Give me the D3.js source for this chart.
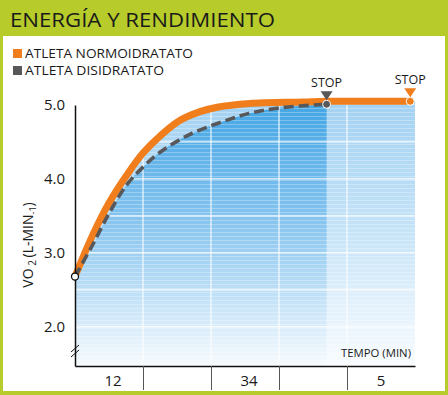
<!DOCTYPE html>
<html>
<head>
<meta charset="utf-8">
<script src="https://cdn.jsdelivr.net/npm/d3@7"></script>
<style>
  body { margin: 0; background: #fff; }
  text { font-family: "Open Sans", "Noto Sans", sans-serif; }
</style>
</head>
<body>
<div id="chart"></div>
<script>
// data (time in minutes, VO2 in L/min)
var normoTime = [0, 0.26, 0.51, 0.76, 1.0, 1.25, 1.54, 1.84, 2.09, 2.57, 3.35, 3.7, 4.93];
var normoVO2  = [2.68, 3.24, 3.69, 4.05, 4.35, 4.58, 4.79, 4.91, 4.97, 5.02, 5.04, 5.05, 5.05];
var disiTime  = [0, 0.26, 0.51, 0.76, 1.0, 1.25, 1.66, 2.03, 2.32, 2.53, 3.0, 3.7];
var disiVO2   = [2.68, 3.11, 3.55, 3.92, 4.16, 4.36, 4.59, 4.73, 4.82, 4.88, 4.96, 5.01];
var yTicks = [2.0, 3.0, 4.0, 5.0];
var xTicks = [1, 2, 3, 4];
var catLabels = ["12", "34", "5"];
var catPos = [0.56, 2.56, 4.5];
var legendNames = ["ATLETA NORMOIDRATATO", "ATLETA DISIDRATATO"];

var W = 448, H = 395;
var orange = "#f07e1c", grey = "#58585a", green = "#b7cc2a";

var svg = d3.select("#chart").append("svg")
    .attr("width", W)
    .attr("height", H);

// frame + header band
svg.append("rect").attr("width", W).attr("height", H).attr("fill", green);
svg.append("rect").attr("x", 3).attr("y", 36).attr("width", W - 6).attr("height", H - 36 - 4).attr("fill", "#fff");

svg.append("text")
    .attr("x", 10).attr("y", 27)
    .style("font-size", "20px")
    .attr("fill", "#1a1a1a")
    .attr("textLength", 265).attr("lengthAdjust", "spacingAndGlyphs")
    .text("ENERGÍA Y RENDIMIENTO");

// legend
legendNames.forEach(function(name, i) {
  svg.append("rect")
    .attr("x", 13).attr("y", 49 + i * 17).attr("width", 9).attr("height", 9)
    .attr("fill", i === 0 ? orange : grey);
  svg.append("text")
    .attr("x", 25).attr("y", 58 + i * 17)
    .style("font-size", "13.5px")
    .attr("fill", "#1a1a1a")
    .attr("textLength", i === 0 ? 168 : 139).attr("lengthAdjust", "spacingAndGlyphs")
    .text(name);
});

var x = d3.scaleLinear().domain([0, 5]).range([75, 415]);
var y = d3.scaleLinear().domain([1.47, 5.0]).range([366, 105]);

var normo = normoTime.map(function(t, i) { return {t: t, v: normoVO2[i]}; });
var disi = disiTime.map(function(t, i) { return {t: t, v: disiVO2[i]}; });
var normoFill = normo.concat([{t: 5, v: normoVO2[normoVO2.length - 1]}]);

var defs = svg.append("defs");
function grad(id, top, mid, bottom) {
  var g = defs.append("linearGradient").attr("id", id)
    .attr("gradientUnits", "userSpaceOnUse")
    .attr("x1", 0).attr("x2", 0).attr("y1", y(5)).attr("y2", y(1.47));
  g.append("stop").attr("offset", "0%").attr("stop-color", top);
  g.append("stop").attr("offset", "45%").attr("stop-color", mid);
  g.append("stop").attr("offset", "100%").attr("stop-color", bottom);
}
grad("gDark", "#45a6e5", "#88c5ef", "#f7fbfe");
grad("gLight", "#a4d2f2", "#c3e2f7", "#f9fcff");

var pat = defs.append("pattern").attr("id", "stripes")
    .attr("patternUnits", "userSpaceOnUse").attr("width", 8).attr("height", 4);
pat.append("rect").attr("y", 0).attr("width", 8).attr("height", 1).attr("fill", "#fff").attr("opacity", 0.28);

var curve = d3.curveCatmullRom.alpha(0.5);
var area = d3.area()
    .x(function(d) { return x(d.t); })
    .y0(y(1.47))
    .y1(function(d) { return y(d.v); })
    .curve(curve);
var line = d3.line()
    .x(function(d) { return x(d.t); })
    .y(function(d) { return y(d.v); })
    .curve(curve);

svg.append("path").datum(normoFill).attr("d", area).attr("fill", "url(#gLight)");
svg.append("path").datum(disi).attr("d", area).attr("fill", "url(#gDark)");
svg.append("path").datum(normoFill).attr("d", area).attr("fill", "url(#stripes)");

// white grid
svg.append("g").selectAll("line").data(xTicks).enter().append("line")
    .attr("x1", function(d) { return x(d); }).attr("x2", function(d) { return x(d); })
    .attr("y1", y(5.05)).attr("y2", y(1.47))
    .attr("stroke", "#fff").attr("stroke-width", 1.2).attr("opacity", 0.9);
svg.append("g").selectAll("line").data(d3.range(2, 5, 0.5)).enter().append("line")
    .attr("x1", x(0)).attr("x2", x(5))
    .attr("y1", function(d) { return y(d); }).attr("y2", function(d) { return y(d); })
    .attr("stroke", "#fff").attr("stroke-width", 1.2).attr("opacity", 0.9);

// curves
svg.append("path").datum(normo).attr("d", line)
    .attr("fill", "none").attr("stroke", orange).attr("stroke-width", 7).attr("stroke-linecap", "round");
svg.append("path").datum(disi).attr("d", line)
    .attr("fill", "none").attr("stroke", grey).attr("stroke-width", 3.6)
    .attr("stroke-dasharray", "10,5");

// axes
var yAxis = svg.append("g")
    .attr("transform", "translate(" + x(0) + ",0)")
    .call(d3.axisLeft(y).tickValues(yTicks).tickSize(0).tickSizeOuter(0).tickPadding(10)
      .tickFormat(d3.format(".1f")));
yAxis.select(".domain").attr("stroke", "#111").attr("stroke-width", 1.5);
yAxis.selectAll(".tick text").style("font-size", "15px").attr("fill", "#1a1a1a")
    .style("font-family", "'Open Sans', 'Noto Sans', sans-serif");

var xAxis = svg.append("g")
    .attr("transform", "translate(0," + y(1.47) + ")")
    .call(d3.axisBottom(x).tickValues(xTicks).tickSize(24).tickSizeOuter(0).tickFormat(""));
xAxis.select(".domain").attr("stroke", "#111").attr("stroke-width", 1.5);
xAxis.selectAll(".tick line").attr("stroke", "#555").attr("stroke-width", 1);

catLabels.forEach(function(lab, i) {
  svg.append("text")
    .attr("x", x(catPos[i])).attr("y", 386)
    .attr("text-anchor", "middle")
    .style("font-size", "15px").attr("fill", "#1a1a1a")
    .text(lab);
});

// axis break
[0, 5].forEach(function(off) {
  svg.append("line")
    .attr("x1", x(0) - 4).attr("y1", 352 + off)
    .attr("x2", x(0) + 4).attr("y2", 345 + off)
    .attr("stroke", "#111").attr("stroke-width", 1);
});

svg.append("text")
    .attr("x", 411).attr("y", 357)
    .attr("text-anchor", "end")
    .style("font-size", "11px").attr("fill", "#1a1a1a")
    .attr("textLength", 70).attr("lengthAdjust", "spacingAndGlyphs")
    .text("TEMPO (MIN)");

// y axis title
var yt = svg.append("text")
    .attr("transform", "translate(33,245) rotate(-90)")
    .attr("text-anchor", "middle")
    .style("font-size", "14px").attr("fill", "#1a1a1a");
yt.append("tspan").text("VO");
yt.append("tspan").attr("dy", 3).style("font-size", "10px").text(" 2 ");
yt.append("tspan").attr("dy", -3).text("(L-MIN");
yt.append("tspan").attr("dy", 3).style("font-size", "9px").text("-1");
yt.append("tspan").attr("dy", -3).text(")");

// points
var lastN = normo[normo.length - 1], lastD = disi[disi.length - 1];
svg.append("circle").attr("cx", x(0)).attr("cy", y(normoVO2[0])).attr("r", 3.5)
    .attr("fill", "#fff").attr("stroke", "#111").attr("stroke-width", 1.3);
svg.append("circle").attr("cx", x(lastD.t)).attr("cy", y(lastD.v)).attr("r", 4)
    .attr("fill", grey).attr("stroke", "#fff").attr("stroke-width", 1);
svg.append("circle").attr("cx", x(lastN.t)).attr("cy", y(lastN.v)).attr("r", 4)
    .attr("fill", orange).attr("stroke", "#fff").attr("stroke-width", 1);

// stop markers
[[lastD, grey], [lastN, orange]].forEach(function(m) {
  var cx = x(m[0].t), cy = y(m[0].v);
  svg.append("path")
    .attr("d", "M" + (cx - 6) + "," + (cy - 13) + "L" + (cx + 6) + "," + (cy - 13) + "L" + cx + "," + (cy - 4) + "Z")
    .attr("fill", m[1]);
  svg.append("text")
    .attr("x", cx).attr("y", cy - 17)
    .attr("text-anchor", "middle")
    .style("font-size", "12.5px").attr("fill", "#1a1a1a")
    .text("STOP");
});
</script>
</body>
</html>
